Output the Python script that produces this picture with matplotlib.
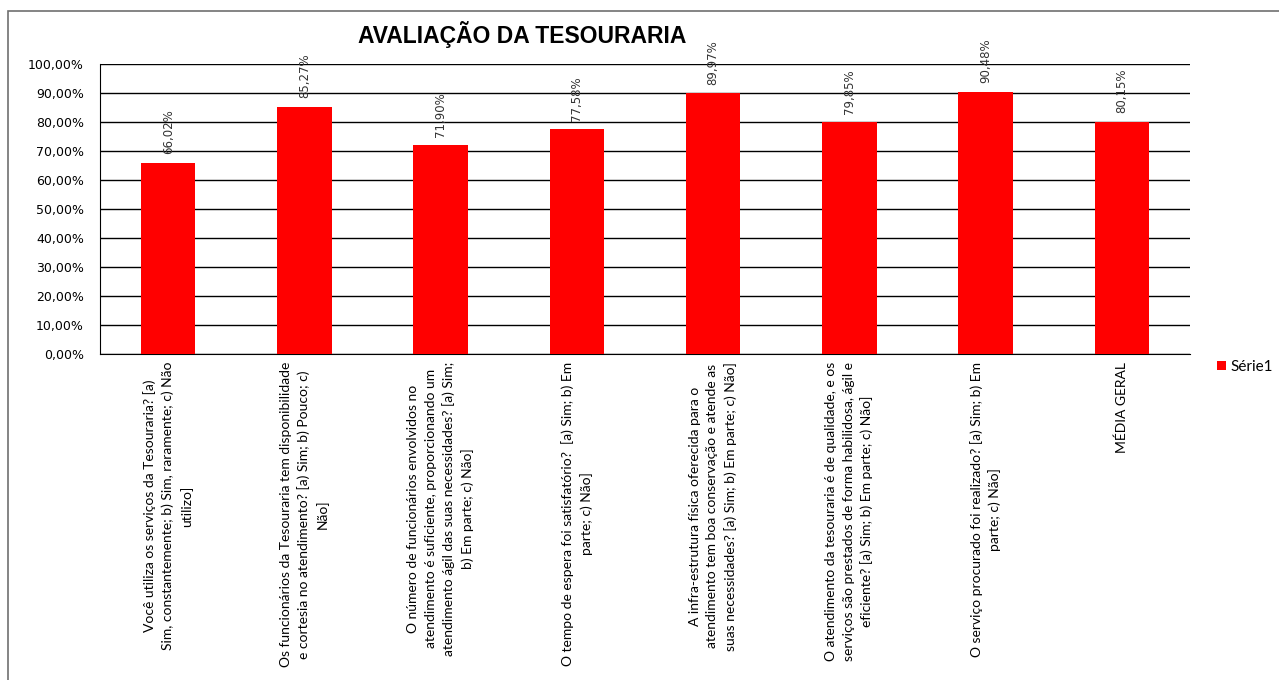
import matplotlib.pyplot as plt
from matplotlib.patches import Rectangle
from matplotlib.ticker import FuncFormatter

questions = [
    "Você utiliza os serviços da Tesouraria? [a)\nSim, constantemente; b) Sim, raramente; c) Não\nutilizo]",
    "Os funcionários da Tesouraria tem disponibilidade\ne cortesia no atendimento? [a) Sim; b) Pouco; c)\nNão]",
    "O número de funcionários envolvidos no\natendimento é suficiente, proporcionando um\natendimento ágil das suas necessidades? [a) Sim;\nb) Em parte; c) Não]",
    "O tempo de espera foi satisfatório?  [a) Sim; b) Em\nparte; c) Não]",
    "A infra-estrutura física oferecida para o\natendimento tem boa conservação e atende as\nsuas necessidades? [a) Sim; b) Em parte; c) Não]",
    "O atendimento da tesouraria é de qualidade, e os\nserviços são prestados de forma habilidosa, ágil e\neficiente? [a) Sim; b) Em parte; c) Não]",
    "O serviço procurado foi realizado? [a) Sim; b) Em\nparte; c) Não]",
    "MÉDIA GERAL",
]
values = [66.02, 85.27, 71.90, 77.58, 89.97, 79.85, 90.48, 80.15]
yticks = [0, 10, 20, 30, 40, 50, 60, 70, 80, 90, 100]

W, H = 1279, 680
fig = plt.figure(figsize=(W / 100, H / 100), dpi=100)
ax = fig.add_axes([100 / W, 1 - 354 / H, 1090 / W, 290 / H])

# outer chart frame (only left and top edges are visible)
fig.patches.append(Rectangle((8 / W, -0.1), 1.2, 1 - 11 / H + 0.1,
                             transform=fig.transFigure, fill=False,
                             edgecolor="#707070", linewidth=1.2))

x = range(len(values))
bars = ax.bar(x, values, width=0.4, color="#ff0000", label="Série1", zorder=3)

for xi, v in zip(x, values):
    ax.annotate(f"{v:.2f}%".replace(".", ","), (xi, v), xytext=(0, 6),
                textcoords="offset points", rotation=90, ha="center",
                va="bottom", fontsize=8.5, color="#333333",
                family="DejaVu Sans")

ax.set_xlim(-0.5, len(values) - 0.5)
ax.set_ylim(0, 100)
ax.set_yticks(yticks)
ax.yaxis.set_major_formatter(FuncFormatter(lambda v, p: f"{v:.2f}%".replace(".", ",")))
ax.grid(axis="y", color="black", linewidth=1, zorder=0)
ax.tick_params(axis="y", length=0, pad=11.5, labelsize=9)
ax.tick_params(axis="x", length=0, pad=5.5)
ax.set_xticks(list(x))
ax.set_xticklabels(questions, rotation=90, ha="center", va="top",
                   multialignment="center", fontsize=10, family="Lato",
                   linespacing=1.52)
for s in ["top", "right"]:
    ax.spines[s].set_visible(False)
for s in ["left", "bottom"]:
    ax.spines[s].set_color("black")

fig.text(522 / W, 1 - 35 / H, "AVALIAÇÃO DA TESOURARIA", ha="center",
         va="center", fontsize=16.5, fontweight="bold",
         family="Liberation Sans")

fig.legend(handles=[bars], loc="center left",
           bbox_to_anchor=(1203 / W, 1 - 367 / H), frameon=False,
           handlelength=0.6, handleheight=0.6, handletextpad=0.3,
           prop={"family": "Lato", "size": 11})

fig.savefig("out.png", dpi=100)
